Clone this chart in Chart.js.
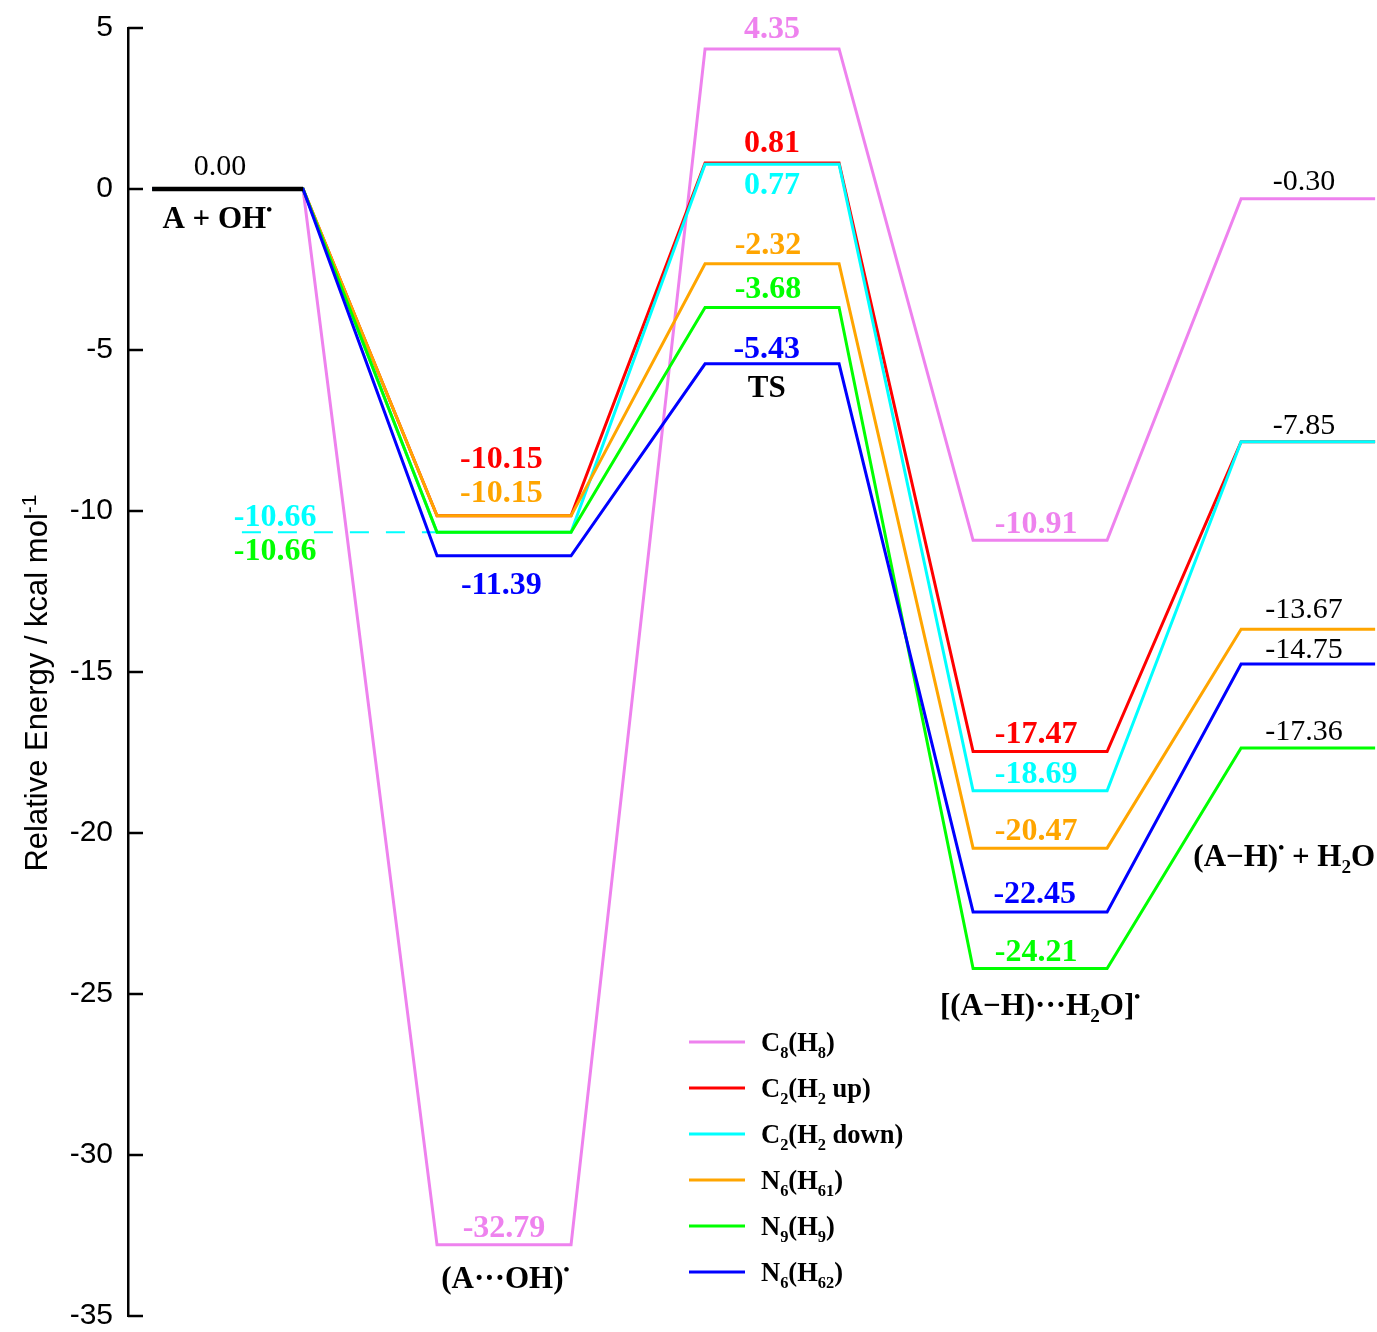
<!DOCTYPE html>
<html>
<head>
<meta charset="utf-8">
<script src="https://cdn.jsdelivr.net/npm/chart.js@4.4.0/dist/chart.umd.min.js"></script>
<style>
    html, body { margin: 0; padding: 0; background: #fff; }
</style>
</head>
<body>
<canvas id="myChart" width="1377" height="1332"></canvas>
<script>
// stage names along the reaction path
var stages = ['A + OH^{•}', '(A···OH)^{•}', 'TS', '[(A−H)···H_{2}O]^{•}', '(A−H)^{•} + H_{2}O'];

// relative energies (kcal/mol) for each stage
var c8h8   = [0.00, -32.79,  4.35, -10.91,  -0.30];
var c2up   = [0.00, -10.15,  0.81, -17.47,  -7.85];
var c2down = [0.00, -10.66,  0.77, -18.69,  -7.85];
var n6h61  = [0.00, -10.15, -2.32, -20.47, -13.67];
var n9h9   = [0.00, -10.66, -3.68, -24.21, -17.36];
var n6h62  = [0.00, -11.39, -5.43, -22.45, -14.75];

var seriesNames = ['C_{8}(H_{8})', 'C_{2}(H_{2} up)', 'C_{2}(H_{2} down)', 'N_{6}(H_{61})', 'N_{9}(H_{9})', 'N_{6}(H_{62})'];
var yTicks = [5, 0, -5, -10, -15, -20, -25, -30, -35];

// ---- styling ----
var colors = ['#EE82EE', '#FF0000', '#00FFFF', '#FFA500', '#00FF00', '#0000FF'];
var drawOrder = [5, 4, 3, 2, 1, 0];   // lower = drawn on top
var levelStart = [-0.313, -0.25, -0.25, -0.25, -0.25];
var levelEnd = [0.25, 0.25, 0.25, 0.25, 0.25];

// label offsets: [dx in stage units, dy in px from the level]
var labelOffsets = [
    [null, [0, -19], [0, -22], [-0.015, -18], [-0.015, -19]],
    [null, [-0.01, -59], [0, -22], [-0.015, -19], null],
    [null, [0.146 - 1, -17], [0, 19], [-0.015, -19], [-0.015, -18]],
    [null, [-0.01, -25], [-0.015, -21], [-0.015, -19], [-0.015, -21]],
    [null, [0.146 - 1, 17], [-0.015, -20], [-0.015, -18], [-0.015, -18]],
    [null, [-0.01, 27], [-0.02, -17], [-0.02, -20], [-0.015, -16]]
];
// stage label placement: dx (stage units), dy (px below lowest level), align
var stageLabelPos = [
    [-0.07, 29, 'center'],
    [0.005, 33, 'center'],
    [-0.02, 23, 'center'],
    [0, 36, 'center'],
    [0.25, 108, 'right']
];

var allSeries = [c8h8, c2up, c2down, n6h61, n9h9, n6h62];

function levelPoints(vals) {
    var pts = [];
    for (var i = 0; i < vals.length; i++) {
        pts.push({ x: i + levelStart[i], y: vals[i] });
        pts.push({ x: i + levelEnd[i], y: vals[i] });
    }
    return pts;
}

var datasets = allSeries.map(function (vals, s) {
    return {
        label: seriesNames[s],
        data: levelPoints(vals),
        borderColor: colors[s],
        backgroundColor: colors[s],
        borderWidth: 3,
        pointRadius: 0,
        tension: 0,
        fill: false,
        order: drawOrder[s]
    };
});

// cyan guide line for the (A...OH) level that is hidden under green
datasets.push({
    label: 'guide',
    data: [{ x: 0.022, y: c2down[1] }, { x: 1 + levelStart[1], y: c2down[1] }],
    borderColor: colors[2],
    borderWidth: 2,
    borderDash: [19, 17],
    pointRadius: 0,
    fill: false,
    order: 10
});

// reactant level in black
datasets.push({
    label: 'reactant',
    data: [{ x: levelStart[0], y: c8h8[0] }, { x: levelEnd[0], y: c8h8[0] }],
    borderColor: '#000',
    borderWidth: 4.5,
    pointRadius: 0,
    fill: false,
    order: -1
});

function parseRich(str) {
    var parts = str.split(/(_\{[^}]*\}|\^\{[^}]*\})/);
    var out = [];
    parts.forEach(function (p) {
        if (!p) return;
        if (p[0] === '_' && p[1] === '{') out.push({ t: p.slice(2, -1), m: 1 });
        else if (p[0] === '^' && p[1] === '{') out.push({ t: p.slice(2, -1), m: 2 });
        else out.push({ t: p, m: 0 });
    });
    return out;
}

function drawRich(ctx, str, x, y, size, weight, family, align, opt) {
    opt = opt || {};
    var subScale = opt.subScale || 0.62, supScale = opt.supScale || 0.55;
    var subShift = opt.subShift || 0.22, supShift = opt.supShift || 0.42;
    var parts = parseRich(str);
    var total = 0;
    parts.forEach(function (p) {
        var sz = p.m === 0 ? size : (p.m === 1 ? size * subScale : size * supScale);
        p.font = weight + ' ' + sz + 'px ' + family;
        ctx.font = p.font;
        p.w = ctx.measureText(p.t).width;
        total += p.w;
    });
    var cx = x;
    if (align === 'center') cx = x - total / 2;
    else if (align === 'right') cx = x - total;
    ctx.textAlign = 'left';
    ctx.textBaseline = 'alphabetic';
    parts.forEach(function (p) {
        ctx.font = p.font;
        var dy = p.m === 1 ? size * subShift : (p.m === 2 ? -size * supShift : 0);
        ctx.fillText(p.t, cx, y + dy);
        cx += p.w;
    });
}

var serif = '"Liberation Serif", "Times New Roman", serif';
var sans = '"Liberation Sans", Arial, sans-serif';

var annotate = {
    id: 'annotate',
    afterDraw: function (chart) {
        var ctx = chart.ctx;
        var xs = chart.scales.x, ys = chart.scales.y;
        var area = chart.chartArea;
        ctx.save();

        // inward tick marks
        ctx.strokeStyle = '#000';
        ctx.lineWidth = 2.5;
        yTicks.forEach(function (t) {
            var py = ys.getPixelForValue(t);
            ctx.beginPath();
            ctx.moveTo(area.left, py);
            ctx.lineTo(area.left + 15, py);
            ctx.stroke();
        });

        // axis title
        ctx.save();
        ctx.translate(47, 683);
        ctx.rotate(-Math.PI / 2);
        ctx.fillStyle = '#000';
        drawRich(ctx, 'Relative Energy / kcal mol^{-1}', 0, 0, 31, 'normal', sans, 'center',
            { supScale: 0.68, supShift: 0.36 });
        ctx.restore();

        var vSize = 32;
        // energy labels for stages 1..3 in series colour
        allSeries.forEach(function (vals, s) {
            for (var i = 1; i <= 3; i++) {
                var off = labelOffsets[s][i];
                if (!off) continue;
                var px = xs.getPixelForValue(i + off[0]);
                var py = ys.getPixelForValue(vals[i]) + off[1];
                ctx.fillStyle = colors[s];
                ctx.font = 'bold ' + vSize + 'px ' + serif;
                ctx.textAlign = 'center';
                ctx.textBaseline = 'alphabetic';
                ctx.fillText(vals[i].toFixed(2), px, py + vSize * 0.34);
            }
        });

        // reactant and product energies in black
        var bSize = 30;
        ctx.fillStyle = '#000';
        ctx.font = 'normal ' + bSize + 'px ' + serif;
        ctx.textAlign = 'center';
        ctx.fillText(c8h8[0].toFixed(2), xs.getPixelForValue(-0.06), ys.getPixelForValue(c8h8[0]) - 24 + bSize * 0.34);
        allSeries.forEach(function (vals, s) {
            var off = labelOffsets[s][4];
            if (!off) return;
            var px = xs.getPixelForValue(4 + off[0]);
            var py = ys.getPixelForValue(vals[4]) + off[1];
            ctx.fillText(vals[4].toFixed(2), px, py + bSize * 0.34);
        });

        // stage names
        ctx.fillStyle = '#000';
        stages.forEach(function (name, i) {
            var low = Math.min.apply(null, allSeries.map(function (v) { return v[i]; }));
            var pos = stageLabelPos[i];
            var px = xs.getPixelForValue(i + pos[0]);
            var py = ys.getPixelForValue(low) + pos[1];
            drawRich(ctx, name, px, py + 31 * 0.33, 31, 'bold', serif, pos[2]);
        });

        // legend
        var lx = 689, ly = 1042, step = 46;
        for (var s = 0; s < seriesNames.length; s++) {
            var yy = ly + s * step;
            ctx.strokeStyle = colors[s];
            ctx.lineWidth = 3;
            ctx.beginPath();
            ctx.moveTo(lx, yy);
            ctx.lineTo(lx + 56, yy);
            ctx.stroke();
            ctx.fillStyle = '#000';
            drawRich(ctx, seriesNames[s], lx + 72, yy + 9, 26.5, 'bold', serif, 'left',
                { subScale: 0.62, subShift: 0.28 });
        }
        ctx.restore();
    }
};

var ctx = document.getElementById('myChart').getContext('2d');
var chart = new Chart(ctx, {
    type: 'line',
    data: { datasets: datasets },
    options: {
        responsive: false,
        animation: false,
        devicePixelRatio: 1,
        layout: { padding: { top: 28, bottom: 16, left: 0, right: 0 } },
        plugins: {
            legend: { display: false },
            tooltip: { enabled: false }
        },
        scales: {
            x: {
                type: 'linear',
                min: -0.403,
                max: 4.257,
                display: false
            },
            y: {
                type: 'linear',
                min: -35,
                max: 5,
                afterFit: function (scale) {
                    scale.width = 128;
                    scale.paddingTop = 0;
                    scale.paddingBottom = 0;
                },
                afterBuildTicks: function (scale) {
                    scale.ticks = yTicks.map(function (v) { return { value: v }; });
                },
                ticks: {
                    color: '#000',
                    padding: 15,
                    font: { family: sans, size: 30 },
                    callback: function (v) { return String(v); }
                },
                grid: { drawOnChartArea: false, drawTicks: false },
                border: { display: true, color: '#000', width: 2.5 }
            }
        }
    },
    plugins: [annotate]
});
</script>
</body>
</html>
